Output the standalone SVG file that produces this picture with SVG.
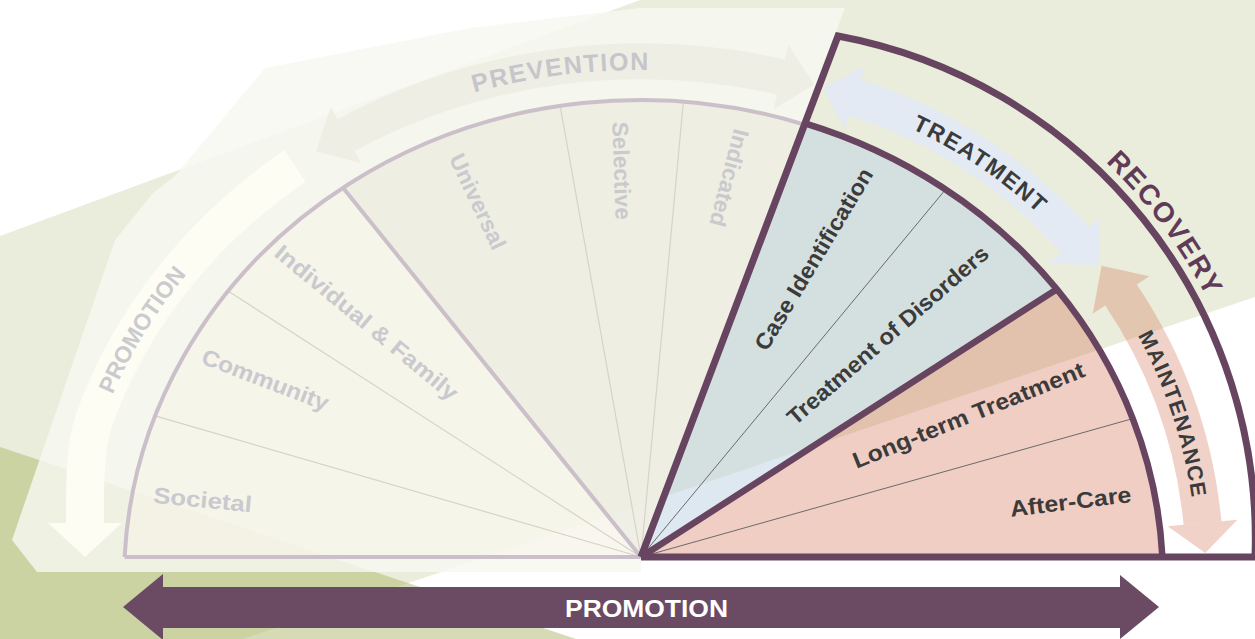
<svg xmlns="http://www.w3.org/2000/svg" width="1255" height="639" viewBox="0 0 1255 639">
<defs>
<style>
.lbl{font-family:"Liberation Sans",Arial,sans-serif;font-weight:bold;font-size:22.5px}
.faint{fill:#c9c9ce}
.dark{fill:#3b3b3b}
.promo{fill:#f8f4e8;fill-opacity:.5}
.prev{fill:#e8e6d8;fill-opacity:.5}
.teal{fill:#c1d5e4;fill-opacity:.55}
.pink{fill:#d47356;fill-opacity:.35}
.mauve{fill:none;stroke:#cbbfca;stroke-width:4}
.thinL{fill:none;stroke:#d8d3c6;stroke-width:1.2}
.plum{fill:none;stroke:#67445f;stroke-width:6.5;stroke-linejoin:miter}
.thinD{fill:none;stroke:#6a6a6a;stroke-width:1}
</style>
<path id="pPrev" d="M373.6,130.5 A566 510 0 0 1 756.7,80.8"/>
<path id="pPromo" d="M86,475.5 A567 511 0 0 1 246,213.5"/>
<path id="pTreat" d="M824.5,98.2 A485 485 0 0 1 1099.9,283.2"/>
<path id="pMaint" d="M1063.3,233 A489 489 0 0 1 1193.8,625.2"/>
<path id="pRecov" d="M991.4,78.5 A521 521 0 0 1 1254.3,431.8"/>
</defs>

<g id="background">
<rect x="0" y="0" width="1255" height="639" fill="#ffffff"/>
<polygon points="0,236 640,0 1255,0 1255,297 243,639 0,639" fill="#eaeddb"/>
<polygon points="0,447 576,639 0,639" fill="#abb96b" fill-opacity="0.5"/>
<polygon points="37,572 12,540 115,240 153,193 175,176 265,68 470,28 640,8 845,8 641,557 641,572" fill="#f7f8f2" fill-opacity="0.81"/>
</g>

<g id="node-societal">
<path class="promo" d="M641,557 L124.6,557 A517 480 0 0 1 155.2,415.8 Z"/>
<text class="lbl faint" text-anchor="middle" textLength="99" lengthAdjust="spacingAndGlyphs" transform="translate(202,507.5) rotate(5.5)">Societal</text>
</g>
<g id="node-community">
<path class="promo" d="M641,557 L155.2,415.8 A517 480 0 0 1 228.1,291.1 Z"/>
<text class="lbl faint" text-anchor="middle" textLength="134" lengthAdjust="spacingAndGlyphs" transform="translate(262.5,387) rotate(21)">Community</text>
</g>
<g id="node-individual-family">
<path class="promo" d="M641,557 L228.1,291.1 A517 480 0 0 1 343,187.8 Z"/>
<text class="lbl faint" text-anchor="middle" textLength="230" lengthAdjust="spacingAndGlyphs" transform="translate(361.6,328.5) rotate(39.5)">Individual &amp; Family</text>
</g>
<g id="node-universal">
<path class="prev" d="M641,557 L343,187.8 A517 480 0 0 1 560.1,105.9 Z"/>
<text class="lbl faint" text-anchor="middle" textLength="103" lengthAdjust="spacingAndGlyphs" transform="translate(470.8,204.9) rotate(64.7)">Universal</text>
</g>
<g id="node-selective">
<path class="prev" d="M641,557 L560.1,105.9 A517 480 0 0 1 683.4,101.6 Z"/>
<text class="lbl faint" text-anchor="middle" textLength="98" lengthAdjust="spacingAndGlyphs" transform="translate(614,171) rotate(88)">Selective</text>
</g>
<g id="node-indicated">
<path class="prev" d="M641,557 L683.4,101.6 A517 480 0 0 1 804.5,124.6 Z"/>
<text class="lbl faint" text-anchor="middle" textLength="99.5" lengthAdjust="spacingAndGlyphs" transform="translate(721.8,176) rotate(104.5)">Indicated</text>
</g>

<g id="node-case-identification">
<path class="teal" d="M641,557 L805,123.3 A522 481 0 0 1 945.6,189.4 Z"/>
<text class="lbl dark" text-anchor="middle" textLength="208" lengthAdjust="spacingAndGlyphs" transform="translate(820.3,263.2) rotate(-59)">Case Identification</text>
</g>
<g id="node-treatment-of-disorders">
<path class="teal" d="M641,557 L945.6,189.4 A522 481 0 0 1 1056.8,289.2 Z"/>
<text class="lbl dark" text-anchor="middle" textLength="259" lengthAdjust="spacingAndGlyphs" transform="translate(892.8,341) rotate(-41.1)">Treatment of Disorders</text>
</g>
<g id="node-long-term-treatment">
<path class="pink" d="M641,557 L1056.8,289.2 A522 481 0 0 1 1132.8,418.6 Z"/>
<text class="lbl dark" text-anchor="middle" textLength="248" lengthAdjust="spacingAndGlyphs" transform="translate(971.5,422.4) rotate(-22)">Long-term Treatment</text>
</g>
<g id="node-after-care">
<path class="pink" d="M641,557 L1132.8,418.6 A522 481 0 0 1 1162.4,557 Z"/>
<text class="lbl dark" text-anchor="middle" textLength="122" lengthAdjust="spacingAndGlyphs" transform="translate(1071.5,509.4) rotate(-7)">After-Care</text>
</g>

<g id="fan-lines">
<path class="thinL" d="M641,557 L155.2,415.8 M641,557 L228.1,291.1 M641,557 L560.1,105.9 M641,557 L683.4,101.6"/>
<path class="mauve" d="M124.6,557 A517 480 0 0 1 804.5,124.6 M124.6,557 L641,557 M641,557 L343,187.8"/>
<path class="thinD" d="M641,557 L945.6,189.4 M641,557 L1132.8,418.6"/>
</g>

<g id="connectors">
<g id="arrow-promotion-left">
<path d="M295,166 A575 519 0 0 0 94,420 C83.9,448.2 85,495 85,523" fill="none" stroke="#fefdf3" stroke-width="38"/>
<polygon points="48,523 122,523 85,557" fill="#fefdf3"/>
<text class="lbl" style="font-size:23px" fill="#cbcbcf"><textPath href="#pPromo" startOffset="50%" text-anchor="middle">PROMOTION</textPath></text>
</g>
<g id="arrow-prevention">
<path d="M346,135 A575 519 0 0 1 781,77" fill="none" stroke="#eeeee4" stroke-width="36"/>
<polygon points="330.8,106.8 316.1,151.2 361.2,163.2" fill="#eeeee4"/>
<polygon points="788.3,44.8 814.2,84.5 773.7,109.2" fill="#eeeee4"/>
<text class="lbl" style="font-size:25px;letter-spacing:1.5px" fill="#c6c6ca"><textPath href="#pPrev" startOffset="50%" text-anchor="middle">PREVENTION</textPath></text>
</g>
<g id="arrow-maintenance">
<path d="M1121,295 A495 495 0 0 1 1202.5,523" fill="none" stroke="#d47356" stroke-opacity="0.32" stroke-width="38"/>
<polygon points="1149.3,276.2 1101.6,265.8 1092.7,313.8" fill="#d47356" fill-opacity="0.32"/>
<polygon points="1237.4,519.8 1205.3,552.9 1167.6,526.2" fill="#d47356" fill-opacity="0.32"/>
<text class="lbl" style="font-size:21.5px;letter-spacing:1.3px" fill="#3b3b3b"><textPath href="#pMaint" startOffset="50%" text-anchor="middle">MAINTENANCE</textPath></text>
</g>
<g id="arrow-treatment">
<path d="M855,97.5 A494 494 0 0 1 1075,240" fill="none" stroke="#e3eaf3" stroke-width="38"/>
<polygon points="864.8,66 823.5,87.7 845.2,129" fill="#e3eaf3"/>
<polygon points="1100.3,217.3 1098.4,266 1049.7,262.7" fill="#e3eaf3"/>
<text class="lbl" style="font-size:23px;letter-spacing:1.5px" fill="#3b3b3b"><textPath href="#pTreat" startOffset="50%" text-anchor="middle">TREATMENT</textPath></text>
</g>
<g id="arrow-promotion-bottom">
<path d="M123,607 L163,574 L163,587 L1120,587 L1120,575 L1159,607 L1120,639 L1120,628 L163,628 L163,640 Z" fill="#6b4a63"/>
<text class="lbl" style="font-size:23.5px" fill="#ffffff" x="646.5" y="617" text-anchor="middle" textLength="163" lengthAdjust="spacingAndGlyphs">PROMOTION</text>
</g>
</g>

<g id="node-recovery">
<path class="plum" d="M805,123.3 A522 481 0 0 1 1162.4,557 M641,557 L1056.8,289.2"/>
<path class="plum" style="stroke-width:7" d="M641,557 L838,36 A511 511 0 0 1 1255,557 M641,557 L1255,557"/>
<text class="lbl" style="font-size:28px;letter-spacing:1.8px" fill="#5f3b58"><textPath href="#pRecov" startOffset="50%" text-anchor="middle">RECOVERY</textPath></text>
</g>
</svg>
